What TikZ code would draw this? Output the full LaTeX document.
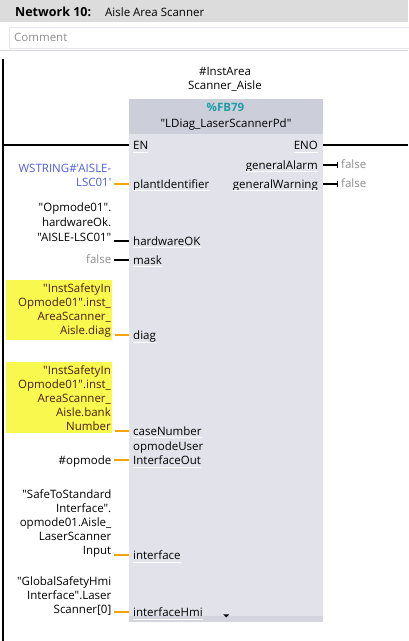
\documentclass[tikz,border=0pt]{standalone}
\usepackage{fontspec}
\setmainfont{Open Sans}[Ligatures=TeXOff]
\usetikzlibrary{arrows.meta}

\definecolor{barGray}{HTML}{DCDCDC}
\definecolor{sepGray}{HTML}{D6D6E2}
\definecolor{fbHead}{HTML}{CCCED9}
\definecolor{fbBody}{HTML}{E1E2EA}
\definecolor{fbFoot}{HTML}{D3D4DD}
\definecolor{fbTeal}{HTML}{1E9EA6}
\definecolor{wireOrange}{HTML}{F5A300}
\definecolor{constBlue}{HTML}{4F5FDB}
\definecolor{constGray}{HTML}{8E8E8E}
\definecolor{tagYellow}{HTML}{F9F84F}
\definecolor{tagText}{HTML}{4A1E0C}

\tikzset{
  pinIn/.style={anchor=base west, inner sep=0pt, text height=8.5pt, text depth=0pt},
  pinOut/.style={anchor=base east, inner sep=0pt, text height=8.5pt, text depth=0pt},
  operand/.style={anchor=base east, align=right, inner sep=0pt},
  tag/.style={operand, fill=tagYellow, text=tagText, text width=104pt, inner xsep=1pt, inner ysep=3pt},
  wire/.style={line width=1.6pt},
  owire/.style={wire, wireOrange, shorten <=2.5pt},
  bwire/.style={wire, shorten <=2.5pt},
  outwire/.style={wire, -{Bar[width=6pt, line width=1.4pt]}, shorten >=3pt},
  uline/.style={white, line width=0.8pt},
}

\begin{document}
\begin{tikzpicture}[x=1pt, y=-1pt, nodes={font=\fontsize{11.5}{14}\selectfont}]
  \useasboundingbox (0,0) rectangle (408,641);

  \fill[barGray] (0,0) rectangle (408,22);
  \node[anchor=base west, inner sep=0pt, font=\bfseries\fontsize{12.5}{15}\selectfont] (netNo) at (15,16.5) {Network 10:};
  \node[anchor=base west, inner sep=0pt] (netTitle) at (105,16) {Aisle Area Scanner};
  \node[draw=sepGray!60, anchor=north west, minimum width=410pt, minimum height=21pt,
        text width=400pt, align=left, inner xsep=3pt, text=constGray] (comment) at (9,27) {Comment};
  \draw[sepGray] (0,50) -- (408,50);

  \coordinate (railTop) at (2.5,59);
  \coordinate (railBot) at (2.5,641);
  \draw[line width=2pt] (railTop) -- (railBot);

  \node[anchor=base, align=center, inner sep=0pt] (inst) at (225,89) {\#InstArea\\Scanner\_Aisle};
  \node[fill=fbBody, anchor=north west, minimum width=194pt, minimum height=523pt, inner sep=0pt] (fb) at (129,99) {};
  \fill[fbHead] (fb.north west) rectangle ([yshift=-35pt]fb.north east);
  \fill[fbFoot] ([yshift=6pt]fb.south west) rectangle (fb.south east);
  \node[anchor=base, inner sep=0pt, text=fbTeal, font=\bfseries\fontsize{11.5}{14}\selectfont] (fbNum) at (225.5,111) {\%FB79};
  \node[anchor=base, inner sep=0pt] (fbName) at (226,127) {"LDiag\_LaserScannerPd"};
  \fill ([xshift=-3pt,yshift=8pt]fb.south) -- ([xshift=3pt,yshift=8pt]fb.south) -- ([yshift=5pt]fb.south) -- cycle;

  % pins
  \node[pinIn] (pinEN) at (133,149.5) {EN};
  \node[pinOut] (pinENO) at (318,149.5) {ENO};
  \node[pinOut] (pinAlarm) at (318,169) {generalAlarm};
  \node[pinOut] (pinWarn) at (318,188) {generalWarning};
  \node[pinIn] (pinPlant) at (133,188) {plantIdentifier};
  \node[pinIn] (pinHw) at (133,245) {hardwareOK};
  \node[pinIn] (pinMask) at (133,264) {mask};
  \node[pinIn] (pinDiag) at (133,339.5) {diag};
  \node[pinIn] (pinCase) at (133,435) {caseNumber};
  \node[pinIn] (pinModeA) at (133,450) {opmodeUser};
  \node[pinIn] (pinMode) at (133,464.5) {InterfaceOut};
  \node[pinIn] (pinIface) at (133,559.5) {interface};
  \node[pinIn] (pinHmi) at (133,616.5) {interfaceHmi};
  \foreach \p in {pinEN,pinENO,pinAlarm,pinWarn,pinPlant,pinHw,pinMask,pinDiag,pinCase,pinMode,pinIface,pinHmi}
    \draw[uline] ([yshift=-2.5pt]\p.south west) -- ([yshift=-2.5pt]\p.south east);

  % operands
  \node[operand, text=constBlue] (opPlant) at (111.5,186) {WSTRING\#'AISLE-\\LSC01'};
  \node[operand, font=\fontsize{11.5}{15}\selectfont] (opHw) at (111.5,241.5) {"Opmode01".\\hardwareOk.\\"AISLE-LSC01"};
  \node[operand, text=constGray] (opMask) at (111.5,263.5) {false};
  \node[tag] (opDiag) at (112,292) {"InstSafetyIn\\Opmode01".inst\_\\AreaScanner\_\\Aisle.diag};
  \node[tag] (opCase) at (112,374) {"InstSafetyIn\\Opmode01".inst\_\\AreaScanner\_\\Aisle.bank\\Number};
  \node[operand] (opMode) at (111.5,464) {\#opmode};
  \node[operand] (opIface) at (111.5,554) {"SafeToStandard\\Interface".\\opmode01.Aisle\_\\LaserScanner\\Input};
  \node[operand] (opHmi) at (111.5,613) {"GlobalSafetyHmi\\Interface".Laser\\Scanner[0]};
  \node[anchor=base west, inner sep=0pt, text=constGray] (valAlarm) at (341,168) {false};
  \node[anchor=base west, inner sep=0pt, text=constGray] (valWarn) at (341,187.5) {false};

  % wires
  \draw[wire] (railTop |- pinEN) -- (fb.west |- pinEN);
  \draw[wire] (fb.east |- pinENO) -- (408,0 |- pinENO);
  \draw[outwire] (fb.east |- pinAlarm) -- (valAlarm.west |- pinAlarm);
  \draw[outwire] (fb.east |- pinWarn) -- (valWarn.west |- pinWarn);
  \draw[owire] (opPlant.east |- pinPlant) -- (fb.west |- pinPlant);
  \draw[bwire] (opHw.east |- pinHw) -- (fb.west |- pinHw);
  \draw[bwire] (opMask.east |- pinMask) -- (fb.west |- pinMask);
  \draw[owire] (opDiag.east |- pinDiag) -- (fb.west |- pinDiag);
  \draw[owire] (opCase.east |- pinCase) -- (fb.west |- pinCase);
  \draw[owire] (opMode.east |- pinMode) -- (fb.west |- pinMode);
  \draw[owire] (opIface.east |- pinIface) -- (fb.west |- pinIface);
  \draw[owire] (opHmi.east |- pinHmi) -- (fb.west |- pinHmi);
\end{tikzpicture}
\end{document}
